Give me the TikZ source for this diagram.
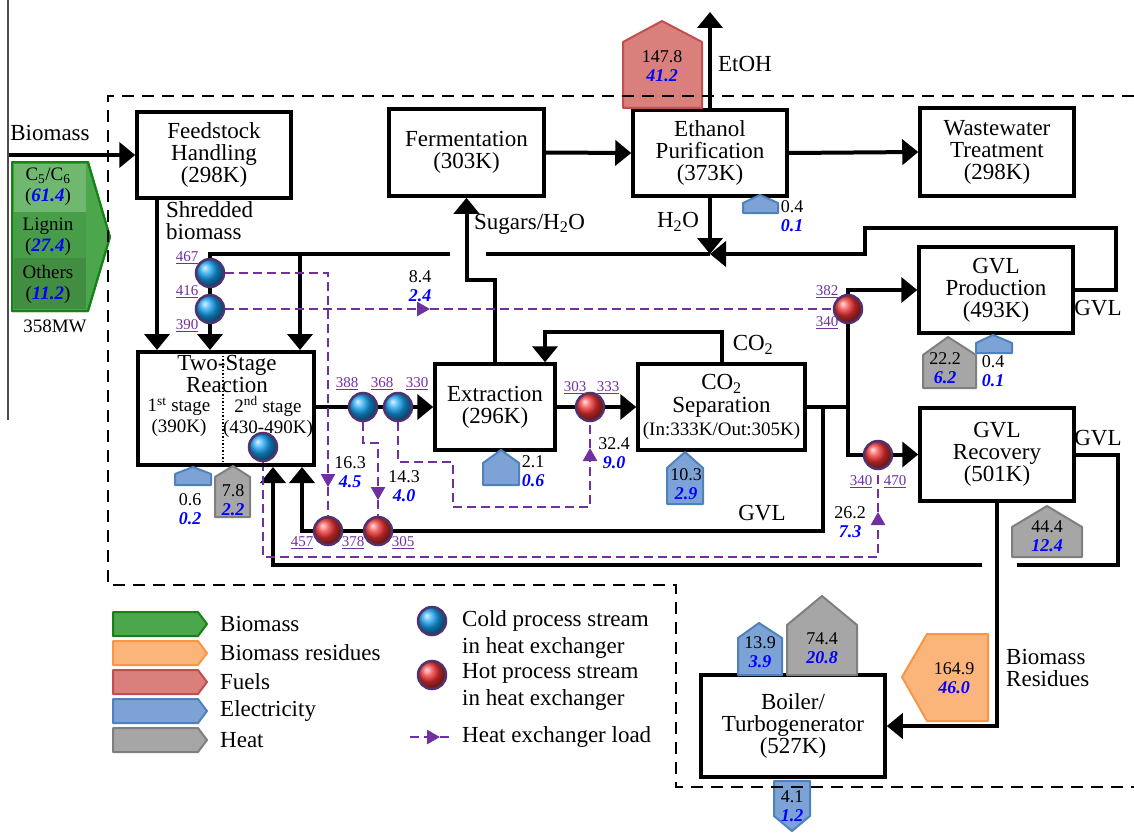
\documentclass[tikz,border=0pt]{standalone}
\usepackage{fontspec}
\setmainfont{Liberation Serif}
\usetikzlibrary{arrows.meta,backgrounds}
\definecolor{elecfill}{RGB}{125,163,214}
\definecolor{elecline}{RGB}{79,129,189}
\definecolor{heatfill}{RGB}{166,166,166}
\definecolor{heatline}{RGB}{127,127,127}
\definecolor{fuelfill}{RGB}{217,128,125}
\definecolor{fuelline}{RGB}{192,80,77}
\definecolor{residfill}{RGB}{251,181,122}
\definecolor{residline}{RGB}{247,150,70}
\definecolor{biofill}{RGB}{76,166,76}
\definecolor{bioline}{RGB}{20,130,20}
\definecolor{loadc}{RGB}{112,48,160}
\definecolor{ringc}{RGB}{80,50,110}
\definecolor{coldc}{RGB}{20,160,240}
\definecolor{hotc}{RGB}{240,50,50}
\definecolor{numblue}{RGB}{0,0,255}
\newcommand{\blueval}[1]{{\color{numblue}\bfseries\itshape #1}}

\begin{document}
\begin{tikzpicture}[x=1pt, y=-1pt,
    procbox/.style={draw, line width=3.5pt, align=center, inner sep=0pt, font=\fontsize{23}{22}\selectfont},
    flow/.style={line width=4pt, -{Triangle[length=16pt,width=25pt]}},
    pipe/.style={line width=4pt},
    hxload/.style={draw=loadc, line width=2.5pt, dash pattern=on 9pt off 5pt},
    hxloadarr/.style={hxload, -{Triangle[length=13pt,width=14pt]}},
    coldhx/.style={circle, minimum size=28pt, inner sep=0pt, draw=ringc, line width=2.5pt, shading=ball, ball color=coldc},
    hothx/.style={circle, minimum size=28pt, inner sep=0pt, draw=ringc, line width=2.5pt, shading=ball, ball color=hotc},
    tlabel/.style={text=loadc, inner sep=0pt, font=\fontsize{15}{15}\selectfont},
    vals/.style={align=center, inner sep=0pt, font=\fontsize{18}{19}\selectfont},
    txt/.style={align=center, inner sep=0pt, font=\fontsize{23}{22}\selectfont},
    elec/.style={fill=elecfill, draw=elecline, line width=2pt, line join=round},
    heat/.style={fill=heatfill, draw=heatline, line width=2pt, line join=round},
    fuel/.style={fill=fuelfill, draw=fuelline, line width=2pt, line join=round},
    resid/.style={fill=residfill, draw=residline, line width=2pt, line join=round},
    bio/.style={fill=biofill, draw=bioline, line width=2pt, line join=round},
    bound/.style={line width=2.5pt, dash pattern=on 12pt off 8pt}]
\useasboundingbox (0,0) rectangle (1134,832);

% process units
\node[procbox, minimum width=154pt, minimum height=86pt] (feed) at (214,155) {Feedstock\\Handling\\(298K)};
\node[procbox, minimum width=155pt, minimum height=87pt] (ferm) at (466.5,152.5) {Fermentation\\(303K)};
\node[procbox, minimum width=154pt, minimum height=86pt] (etoh) at (710,153) {Ethanol\\Purification\\(373K)};
\node[procbox, minimum width=154pt, minimum height=88pt] (wwt) at (997,152) {Wastewater\\Treatment\\(298K)};
\node[procbox, minimum width=176pt, minimum height=113pt] (twost) at (226,408.5) {};
\node[procbox, minimum width=120pt, minimum height=86pt] (extr) at (495,407) {Extraction\\(296K)};
\node[procbox, minimum width=167pt, minimum height=86pt, font=\fontsize{23}{23}\selectfont] (co2s) at (721.5,407) {CO\textsubscript{2}\\Separation\\{\fontsize{19}{20}\selectfont(In:333K/Out:305K)}};
\node[procbox, minimum width=154pt, minimum height=86pt] (gvlp) at (996,290) {GVL\\Production\\(493K)};
\node[procbox, minimum width=154pt, minimum height=93pt] (gvlr) at (997,454.5) {GVL\\Recovery\\(501K)};
\node[procbox, minimum width=184pt, minimum height=102pt] (boil) at (793,726) {Boiler/\\Turbogenerator\\(527K)};

% two-stage reactor inside
\draw[line width=1.5pt, dotted] (223,352) -- (223,465);
\node[txt] (tstitle) at (227,374) {Two-Stage\\Reaction};
\node[txt, font=\fontsize{19}{21}\selectfont] (tsone) at (179,417) {1\textsuperscript{st} stage\\(390K)};
\node[txt, font=\fontsize{19}{21}\selectfont] (tstwo) at (268,417) {2\textsuperscript{nd} stage\\(430-490K)};

% heat exchangers
\node[coldhx] (hxa) at (210,273) {};
\node[coldhx] (hxb) at (210,309) {};
\node[coldhx] (hxc) at (363,407) {};
\node[coldhx] (hxd) at (398,407) {};
\node[coldhx] (hxe) at (263,447) {};
\node[hothx] (hxf) at (328,531) {};
\node[hothx] (hxg) at (378,531) {};
\node[hothx] (hxh) at (590,407) {};
\node[hothx] (hxi) at (848,309) {};
\node[hothx] (hxj) at (878,455) {};

% stream temperatures
\node[tlabel] (ta1) at (187,258) {\underline{467}};
\node[tlabel] (ta2) at (187,292) {\underline{416}};
\node[tlabel] (ta3) at (187,326) {\underline{390}};
\node[tlabel] (tc1) at (347,384) {\underline{388}};
\node[tlabel] (tc2) at (382,384) {\underline{368}};
\node[tlabel] (tc3) at (417,384) {\underline{330}};
\node[tlabel] (tf1) at (302,543) {\underline{457}};
\node[tlabel] (tf2) at (353,543) {\underline{378}};
\node[tlabel] (tf3) at (403,543) {\underline{305}};
\node[tlabel] (th1) at (575,388) {\underline{303}};
\node[tlabel] (th2) at (608,388) {\underline{333}};
\node[tlabel] (ti1) at (827,292) {\underline{382}};
\node[tlabel] (ti2) at (827,323) {\underline{340}};
\node[tlabel] (tj1) at (861,482) {\underline{340}};
\node[tlabel] (tj2) at (895,482) {\underline{470}};

% junctions and bends
\coordinate (bin) at (8,155);
\coordinate (tin1) at (157,350);
\coordinate (tin2) at (210,350);
\coordinate (tin3) at (300,350);
\coordinate (tbot1) at (273,467);
\coordinate (tbot2) at (302,467);
\coordinate (jh2o) at (710,254);
\coordinate (gapl) at (450,254);
\coordinate (gapr) at (486,254);
\coordinate (gvlc1) at (1116,228);
\coordinate (gvlc2) at (865,254);
\coordinate (sug) at (466.5,280);
\coordinate (etohout) at (710,12);
\coordinate (co2bar) at (545,332);
\coordinate (jgvl) at (848,407);
\coordinate (jb) at (823,407);
\coordinate (rb1) at (302,531);
\coordinate (rr1) at (1118,565);
\coordinate (rr2) at (1017,565);
\coordinate (rr3) at (982,565);
\coordinate (la1) at (328,487);
\coordinate (lb1) at (430,309);
\coordinate (lc0) at (378,443);
\coordinate (lc1) at (378,500);
\coordinate (ld1) at (453,462);
\coordinate (ld2) at (590,507);
\coordinate (ld3) at (590,448);
\coordinate (le1) at (878,557);
\coordinate (le2) at (878,512);

\begin{pgfonlayer}{background}
% main streams
\draw[flow] (bin) -- (bin -| feed.west);
\draw[flow] (feed.south -| tin1) -- (tin1);
\draw[flow] (gapl) -| (tin2);
\draw[flow] (gapl -| tin3) -- (tin3);
\draw[pipe] (gapr) -- (jh2o);
\draw[flow] (etoh.south) -- (jh2o);
\draw[flow] (gvlp.east) -| (gvlc1) -| (gvlc2) -- (jh2o);
\draw[flow] (extr.north) |- (sug) -- (ferm.south);
\draw[flow] (ferm.east) -- (etoh.west);
\draw[flow] (etoh.east) -- (wwt.west);
\draw[flow] (etoh.north) -- (etohout);
\draw[flow] (twost.east |- extr.west) -- (extr.west);
\draw[flow] (extr.east) -- (co2s.west);
\draw[flow] (co2s.north) |- (co2bar) -- (co2bar |- extr.north);
\draw[pipe] (co2s.east) -- (jgvl);
\draw[flow] (jgvl) |- (gvlp.west);
\draw[flow] (jgvl) |- (gvlr.west);
\draw[flow] (jb) |- (rb1) -- (tbot2);
\draw[pipe] (gvlr.east) -| (rr1) -- (rr2);
\draw[flow] (rr3) -| (tbot1);
\draw[flow] (gvlr.south) |- (boil.east);
% heat exchanger loads
\draw[hxloadarr] (hxa) -| (la1);
\draw[hxload] (la1) -- (hxf);
\draw[hxloadarr] (hxb) -- (lb1);
\draw[hxload] (lb1) -- (hxi);
\draw[hxloadarr] (hxc) |- (lc0) -- (lc1);
\draw[hxload] (lc1) -- (hxg);
\draw[hxloadarr] (hxd) |- (ld1) |- (ld2) -- (ld3);
\draw[hxload] (ld3) -- (hxh);
\draw[hxloadarr] (hxe) |- (le1) -- (le2);
\draw[hxload] (le2) -- (hxj);
\end{pgfonlayer}

% stream labels
\node[txt] (lbbio) at (50,133) {Biomass};
\node[txt, anchor=west, align=left] (lbshred) at (166,221) {Shredded\\biomass};
\node[txt, anchor=west] (lbsug) at (474,224) {Sugars/H\textsubscript{2}O};
\node[txt] (lbh2o) at (678,222) {H\textsubscript{2}O};
\node[txt] (lbetoh) at (745,64) {EtOH};
\node[txt] (lbco2) at (753,345) {CO\textsubscript{2}};
\node[txt] (lbgvla) at (762,513) {GVL};
\node[txt] (lbgvlb) at (1098,308) {GVL};
\node[txt] (lbgvlc) at (1098,438) {GVL};
\node[txt, anchor=west, align=left] (lbres) at (1006,668) {Biomass\\Residues};

% biomass input
\filldraw[bio] (12,162) -- (88,162) -- (110,237) -- (88,311) -- (12,311) -- cycle;
\fill[biofill!80!white] (14,164) rectangle (86,212);
\fill[biofill!95!black] (14,212) rectangle (86,258);
\fill[biofill!85!black] (14,258) rectangle (86,309);
\draw[bioline, line width=2pt, line join=round] (12,162) -- (88,162) -- (110,237) -- (88,311) -- (12,311) -- cycle;
\node[vals, font=\fontsize{19}{21}\selectfont] (bioc) at (48,187) {C\textsubscript{5}/C\textsubscript{6}\\(\blueval{61.4})};
\node[vals, font=\fontsize{19}{21}\selectfont] (biol) at (48,237) {Lignin\\(\blueval{27.4})};
\node[vals, font=\fontsize{19}{21}\selectfont] (bioo) at (48,284) {Others\\(\blueval{11.2})};
\node[vals, font=\fontsize{19}{21}\selectfont] (biomw) at (55,326) {358MW};

% energy flows
\filldraw[fuel] (623,108) -- (623,42) -- (662,21) -- (702,42) -- (702,108) -- cycle;
\filldraw[elec] (743,213) -- (743,203) -- (760,195) -- (778,203) -- (778,213) -- cycle;
\filldraw[elec] (175,485) -- (175,474) -- (193,467) -- (211,474) -- (211,485) -- cycle;
\filldraw[heat] (215,517) -- (215,477) -- (233,466) -- (250,477) -- (250,517) -- cycle;
\filldraw[elec] (483,485) -- (483,463) -- (501,450) -- (519,463) -- (519,485) -- cycle;
\filldraw[elec] (667,504) -- (667,468) -- (685,452) -- (703,468) -- (703,504) -- cycle;
\filldraw[heat] (923,388) -- (923,355) -- (948,337) -- (976,355) -- (976,388) -- cycle;
\filldraw[elec] (976,353) -- (976,343) -- (993,335) -- (1012,343) -- (1012,353) -- cycle;
\filldraw[heat] (1012,557) -- (1012,527) -- (1047,506) -- (1082,527) -- (1082,557) -- cycle;
\filldraw[elec] (738,675) -- (738,638) -- (759,623) -- (782,638) -- (782,675) -- cycle;
\filldraw[heat] (787,675) -- (787,625) -- (822,596) -- (857,625) -- (857,675) -- cycle;
\filldraw[resid] (988,634) -- (927,634) -- (902,677) -- (927,721) -- (988,721) -- cycle;
\filldraw[elec] (774,781) -- (810,781) -- (810,816) -- (792,831) -- (774,816) -- cycle;

\node[vals] (v1478) at (662,66) {147.8\\\blueval{41.2}};
\node[vals] (v04a) at (792,216) {0.4\\\blueval{0.1}};
\node[vals] (v06) at (190,509) {0.6\\\blueval{0.2}};
\node[vals] (v78) at (233,500) {7.8\\\blueval{2.2}};
\node[vals] (v21) at (533,471) {2.1\\\blueval{0.6}};
\node[vals] (v103) at (686,484) {10.3\\\blueval{2.9}};
\node[vals] (v222) at (945,368) {22.2\\\blueval{6.2}};
\node[vals] (v04b) at (993,371) {0.4\\\blueval{0.1}};
\node[vals] (v444) at (1047,536) {44.4\\\blueval{12.4}};
\node[vals] (v139) at (760,652) {13.9\\\blueval{3.9}};
\node[vals] (v744) at (822,648) {74.4\\\blueval{20.8}};
\node[vals] (v1649) at (954,678) {164.9\\\blueval{46.0}};
\node[vals] (v41) at (792,806) {4.1\\\blueval{1.2}};
\node[vals] (v84) at (420,286) {8.4\\\blueval{2.4}};
\node[vals] (v163) at (350,472) {16.3\\\blueval{4.5}};
\node[vals] (v143) at (404,486) {14.3\\\blueval{4.0}};
\node[vals] (v324) at (614,453) {32.4\\\blueval{9.0}};
\node[vals] (v262) at (850,522) {26.2\\\blueval{7.3}};

% legend
\filldraw[bio] (113,612) -- (198,612) -- (207,624) -- (198,636) -- (113,636) -- cycle;
\filldraw[resid] (113,641) -- (198,641) -- (207,653) -- (198,665) -- (113,665) -- cycle;
\filldraw[fuel] (113,670) -- (198,670) -- (207,682) -- (198,694) -- (113,694) -- cycle;
\filldraw[elec] (113,699) -- (198,699) -- (207,711) -- (198,723) -- (113,723) -- cycle;
\filldraw[heat] (113,728) -- (198,728) -- (207,740) -- (198,752) -- (113,752) -- cycle;
\node[txt, anchor=west] (lgbio) at (220,624) {Biomass};
\node[txt, anchor=west] (lgres) at (220,653) {Biomass residues};
\node[txt, anchor=west] (lgfuel) at (220,682) {Fuels};
\node[txt, anchor=west] (lgelec) at (220,711) {Electricity};
\node[txt, anchor=west] (lgheat) at (220,740) {Heat};
\node[coldhx] (lgcold) at (432,621) {};
\node[hothx] (lghot) at (432,675) {};
\node[txt, anchor=west, align=left, font=\fontsize{23}{27}\selectfont] (lgcoldt) at (462,634) {Cold process stream\\in heat exchanger};
\node[txt, anchor=west, align=left, font=\fontsize{23}{27}\selectfont] (lghott) at (462,687) {Hot process stream\\in heat exchanger};
\coordinate (lgl1) at (410,737);
\coordinate (lgl2) at (440,737);
\coordinate (lgl3) at (452,737);
\draw[hxloadarr] (lgl1) -- (lgl2);
\draw[hxload] (lgl2) -- (lgl3);
\node[txt, anchor=west] (lgloadt) at (462,737) {Heat exchanger load};

% system boundary
\draw[bound] (1134,96) -- (108,96) -- (108,585) -- (676,585) -- (676,787) -- (1134,787);
\draw[line width=1.2pt, black!70] (8,0) -- (8,420);
\end{tikzpicture}
\end{document}
